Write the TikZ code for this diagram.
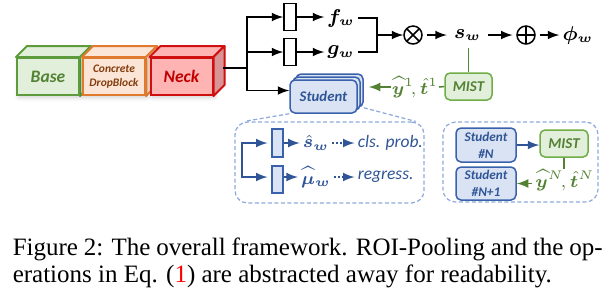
\documentclass[tikz,border=0pt]{standalone}
\usepackage{fontspec}
\setmainfont{Liberation Serif}
\newfontfamily\cfont{Carlito}
\usepackage{bm}
\usetikzlibrary{shadows.blur}

\definecolor{base-fill}{HTML}{E2EFDA}
\definecolor{base-side}{HTML}{C9DEBB}
\definecolor{base-line}{HTML}{5E9B3C}
\definecolor{base-text}{HTML}{548235}
\definecolor{drop-fill}{HTML}{FBE5D6}
\definecolor{drop-side}{HTML}{F1D2BE}
\definecolor{drop-line}{HTML}{E07A2E}
\definecolor{drop-text}{HTML}{843C0C}
\definecolor{neck-fill}{HTML}{FFB4B4}
\definecolor{neck-side}{HTML}{D99595}
\definecolor{neck-line}{HTML}{D01010}
\definecolor{neck-text}{HTML}{C00000}
\definecolor{stu-fill}{HTML}{DAE3F3}
\definecolor{stu-line}{HTML}{3A62AC}
\definecolor{stu-text}{HTML}{2F5597}
\definecolor{stu-dash}{HTML}{8FAADC}
\definecolor{mist-fill}{HTML}{E2EFDA}
\definecolor{mist-line}{HTML}{70AD47}
\definecolor{mist-text}{HTML}{548235}

\tikzset{
    cube/.style={draw, line width=0.8pt, minimum width=24.8pt, minimum height=14.8pt,
        inner sep=0pt, align=center,
        blur shadow={shadow xshift=0.8pt, shadow yshift=-0.8pt, shadow opacity=20, shadow blur steps=5}},
    layer/.style={draw, line width=0.6pt, minimum width=4.8pt, minimum height=10.8pt, inner sep=0pt},
    var/.style={inner sep=0pt, font=\fontsize{7.6}{9}\selectfont},
    small var/.style={inner sep=0pt, font=\fontsize{7}{8}\selectfont},
    op/.style={circle, draw, line width=0.6pt, minimum size=7.2pt, inner sep=0pt},
    stu/.style={draw=stu-line, fill=stu-fill, rounded corners=2pt, line width=0.6pt,
        minimum width=26.8pt, minimum height=13.2pt, inner sep=0pt, align=center,
        text=stu-text, font=\cfont\bfseries\itshape\fontsize{5.9}{6.7}\selectfont},
    mist/.style={draw=mist-line, fill=mist-fill, rounded corners=2pt, line width=0.6pt,
        minimum width=18.8pt, minimum height=10.8pt, inner sep=0pt,
        text=mist-text, font=\cfont\bfseries\itshape\fontsize{6}{7}\selectfont},
    callout/.style={draw=stu-dash, dash pattern=on 1.6pt off 1pt, rounded corners=5pt, line width=0.5pt},
    greenline/.style={draw=mist-text, line width=0.6pt},
    blueline/.style={draw=stu-text, line width=0.6pt},
    note/.style={anchor=west, inner sep=0pt, text=stu-text, font=\cfont\itshape\fontsize{7}{8}\selectfont}
}

\begin{document}
\begin{tikzpicture}[x=0.4pt, y=-0.4pt, line width=0.6pt]
    \useasboundingbox (0,0) rectangle (613,303);

    \foreach \n/\x/\s/\b/\t in {base/48/7/8/Base, drop/114/4.6/5.9/{Concrete\\DropBlock}, neck/181.5/7/8/Neck}
        {
            \node[cube, fill=\n-fill, draw=\n-line, text=\n-text,
                font=\cfont\bfseries\itshape\fontsize{\s}{\b}\selectfont] (\n) at (\x,76.5) {\t};
            \draw[draw=\n-line, fill=\n-fill, line width=0.8pt, line join=round]
                (\n.north west) -- ++(11,-11) -- ([shift={(11,-11)}]\n.north east) -- (\n.north east) -- cycle;
            \draw[draw=\n-line, fill=\n-side, line width=0.8pt, line join=round]
                (\n.north east) -- ++(11,-11) -- ([shift={(11,-11)}]\n.south east) -- (\n.south east) -- cycle;
        }

    \coordinate (neckout) at (223,68);
    \coordinate (split) at (247,68);

    \node[layer] (fc1) at (290,17) {};
    \node[layer] (fc2) at (290,52) {};
    \node[var, minimum width=12.8pt] (fw) at (341,18) {$\bm{f_w}$};
    \node[var, minimum width=12.8pt] (gw) at (341,52) {$\bm{g_w}$};
    \coordinate (join) at (377,35);
    \node[op, path picture={\draw[line width=0.6pt] (path picture bounding box.north west) -- (path picture bounding box.south east)
        (path picture bounding box.north east) -- (path picture bounding box.south west);}] (otimes) at (413,35) {};
    \node[var, minimum width=16pt] (sw) at (467.5,35) {$\bm{s_w}$};
    \node[op, path picture={\draw[line width=0.6pt] (path picture bounding box.north) -- (path picture bounding box.south)
        (path picture bounding box.west) -- (path picture bounding box.east);}] (oplus) at (526,35) {};
    \node[var, minimum width=14.4pt] (phi) at (578,35) {$\bm{\phi_w}$};

    \foreach \d/\n in {6/b,3/m}
        {
            \node[stu] (student-\n) at (323.5+\d,96.5-\d) {};
        }
    \node[stu] (student) at (323.5,96.5) {Student};

    \node[mist] (mist) at (468.5,86.5) {MIST};
    \node[small var, text=mist-text] (lab1) at (415,87) {$\bm{\widehat{y}}^{1}\!, \bm{\hat{t}}^{1}$};

    \draw (neckout) -- (split);
    \draw[-latex] (split) |- (fc1.west);
    \draw[-latex] (split) |- (fc2.west);
    \draw[-latex] (split) |- (student.west |- student-b.west);
    \draw[-latex] (fc1.east) -- (fc1.east -| fw.west);
    \draw[-latex] (fc2.east) -- (fc2.east -| gw.west);
    \draw (fw.east) -| (join) |- (gw.east);
    \draw[-latex] (join) -- (otimes);
    \draw[-latex, shorten <=1.5pt] (otimes) -- (sw);
    \draw[-latex, shorten >=1.5pt] (sw) -- (oplus);
    \draw[-latex, shorten <=1.5pt] (oplus) -- (phi);
    \draw[greenline, shorten >=2.5pt] (mist.north) -- (mist.north |- sw.south);
    \draw[greenline] (mist.west) -- (lab1.east);
    \draw[greenline, -latex, shorten >=2pt] (lab1.west) -- (lab1.west -| student-b.east);

    \node[callout, minimum width=75.6pt, minimum height=32.4pt] (head) at (329.5,162.5) {};
    \draw[callout, rounded corners=0pt] (student.south west) -- ([xshift=4pt]head.north west);
    \draw[callout, rounded corners=0pt] (student-b.south east) -- ([xshift=-3.6pt]head.north east);

    \node[layer, draw=stu-line, fill=stu-fill, minimum width=4.4pt, minimum height=11.2pt] (cls) at (277.5,143) {};
    \node[layer, draw=stu-line, fill=stu-fill, minimum width=4.4pt, minimum height=10.8pt] (reg) at (277.5,179.5) {};
    \coordinate (hsplit) at (242,160);
    \node[small var, text=stu-text] (sh) at (316,143) {$\bm{\hat{s}_w}$};
    \node[small var, text=stu-text] (mu) at (316,177) {$\bm{\widehat{\mu}_w}$};
    \node[note] (clsp) at (357,143) {cls. prob.};
    \node[note] (regp) at (357,177) {regress.};

    \draw[blueline, -latex, shorten >=1.5pt] (hsplit) |- (cls.west |- sh);
    \draw[blueline, -latex, shorten >=1.5pt] (hsplit) |- (reg.west |- mu);
    \draw[blueline, -latex, shorten >=1pt] (cls.east |- sh) -- (sh.west);
    \draw[blueline, -latex, shorten >=1pt] (reg.east |- mu) -- (mu.west);
    \draw[blueline, densely dotted, -latex, shorten <=1pt, shorten >=1pt] (sh.east) -- (clsp.west);
    \draw[blueline, densely dotted, -latex, shorten <=1pt, shorten >=1pt] (mu.east) -- (regp.west);

    \node[callout, minimum width=62pt, minimum height=32pt] (tail) at (520.5,162) {};
    \node[stu, minimum width=24pt, minimum height=13.6pt, font=\cfont\bfseries\itshape\fontsize{5.3}{6.7}\selectfont]
        (stN) at (486,145) {Student\\\#N};
    \node[stu, minimum width=24pt, minimum height=13.2pt, font=\cfont\bfseries\itshape\fontsize{5.3}{6.7}\selectfont]
        (stN1) at (486,183.5) {Student\\\#N+1};
    \node[mist, minimum width=19.2pt] (mistN) at (564,143.5) {MIST};
    \node[small var, text=mist-text] (labN) at (565,180) {$\bm{\widehat{y}}^{N}\!, \bm{\hat{t}}^{N}$};

    \draw[blueline, -latex] (stN) -- (stN -| mistN.west);
    \draw[greenline] (mistN.south) -- (mistN.south |- labN.north);
    \draw[greenline, -latex, shorten <=1pt] (labN.west |- stN1.east) -- (stN1.east);

    \node[anchor=base west, inner sep=0pt, font=\fontsize{10}{12}\selectfont] (cap1) at (12,255)
        {\makebox[236pt][s]{Figure 2: The overall framework. ROI-Pooling and the op-}};
    \node[anchor=base west, inner sep=0pt, font=\fontsize{10}{12}\selectfont] (cap2) at (12,282)
        {erations in Eq. (\textcolor{red}{1}) are abstracted away for readability.};
\end{tikzpicture}
\end{document}
